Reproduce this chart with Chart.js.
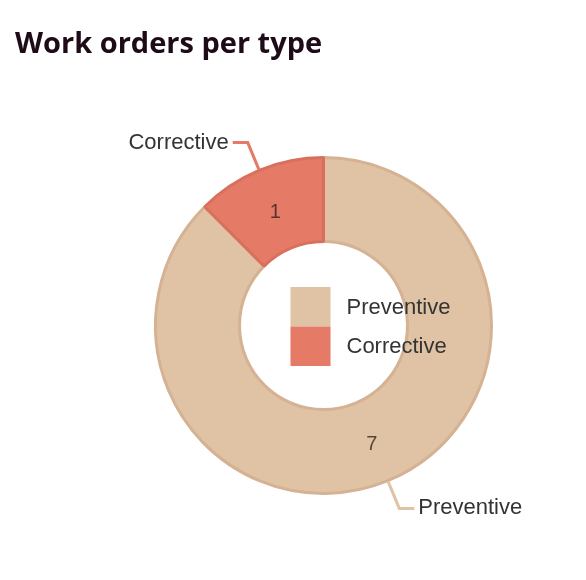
<!DOCTYPE html>
<html>
<head>
<meta charset="utf-8">
<script src="https://cdn.jsdelivr.net/npm/chart.js@4.4.0/dist/chart.umd.min.js"></script>
<style>
    body { margin: 0; background: #fff; }
    #wrap { position: relative; width: 586px; height: 580px; }
    #title {
        position: absolute; left: 15px; top: 22px;
        font-family: "Open Sans", sans-serif; font-weight: 700; font-size: 29px;
        color: #1d0b18; letter-spacing: 0px; white-space: nowrap;
    }
    #chart { position: absolute; left: 0; top: 0; }
</style>
</head>
<body>
<div id="wrap">
    <canvas id="chart" width="586" height="580"></canvas>
    <div id="title">Work orders per type</div>
</div>
<script>
    "use strict";

    var categories = ['Preventive', 'Corrective'];
    var workOrders = [7, 1];
    var fillColors = ['#e0c3a4', '#e57b67'];
    var edgeColors = ['#d4b293', '#d9705d'];

    var labelFont = '22px "Liberation Sans", Arial, sans-serif';

    // outside labels with leader lines, values inside, legend in the hole
    var sliceLabels = {
        id: 'sliceLabels',
        afterDatasetsDraw: function (chart) {
            var ctx = chart.ctx;
            var meta = chart.getDatasetMeta(0);
            ctx.save();
            meta.data.forEach(function (arc, i) {
                var p = arc.getProps(['x', 'y', 'startAngle', 'endAngle', 'outerRadius'], true);
                var mid = (p.startAngle + p.endAngle) / 2;
                var cos = Math.cos(mid), sin = Math.sin(mid);
                var r0 = p.outerRadius + 1, r1 = p.outerRadius + 30;
                var x0 = p.x + r0 * cos, y0 = p.y + r0 * sin;
                var x1 = p.x + r1 * cos, y1 = p.y + r1 * sin;
                var dir = cos >= 0 ? 1 : -1;
                var x2 = x1 + dir * 15;

                ctx.strokeStyle = fillColors[i];
                ctx.lineWidth = 3;
                ctx.lineJoin = 'miter';
                ctx.beginPath();
                ctx.moveTo(x0, y0);
                ctx.lineTo(x1, y1);
                ctx.lineTo(x2, y1);
                ctx.stroke();

                ctx.font = labelFont;
                ctx.fillStyle = '#333333';
                ctx.textBaseline = 'middle';
                ctx.textAlign = dir > 0 ? 'left' : 'right';
                ctx.fillText(categories[i], x2 + dir * 4, y1);

                var c = arc.tooltipPosition(true);
                ctx.font = '20px "Liberation Sans", Arial, sans-serif';
                ctx.fillStyle = 'rgba(50, 30, 22, 0.78)';
                ctx.textAlign = 'center';
                ctx.fillText(String(workOrders[i]), c.x, c.y + 3);
            });

            var first = meta.data[0];
            var cx = first.x, cy = first.y;
            var boxW = 40, boxH = 39.5;
            var bx = cx - 33, by = cy - 38.5;
            categories.forEach(function (name, i) {
                ctx.fillStyle = fillColors[i];
                ctx.fillRect(bx, by + i * boxH, boxW, boxH);
                ctx.font = labelFont;
                ctx.fillStyle = '#333333';
                ctx.textAlign = 'left';
                ctx.textBaseline = 'middle';
                ctx.fillText(name, cx + 23, by + i * boxH + boxH / 2 + 1);
            });
            ctx.restore();
        }
    };

    new Chart(document.getElementById('chart').getContext('2d'), {
        type: 'doughnut',
        data: {
            labels: categories,
            datasets: [{
                data: workOrders,
                backgroundColor: fillColors,
                borderColor: edgeColors,
                borderWidth: 3
            }]
        },
        options: {
            responsive: false,
            animation: false,
            events: [],
            cutout: '50%',
            layout: {
                padding: { left: 154, right: 93, top: 156, bottom: 85 }
            },
            plugins: {
                legend: { display: false },
                tooltip: { enabled: false },
                title: { display: false }
            }
        },
        plugins: [sliceLabels]
    });
</script>
</body>
</html>
